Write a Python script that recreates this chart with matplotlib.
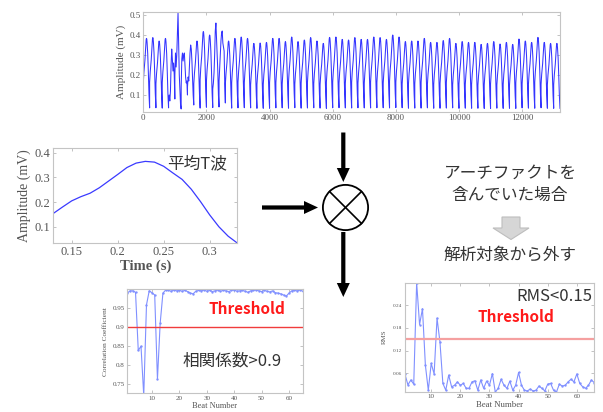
import matplotlib
matplotlib.use('Agg')
import matplotlib.pyplot as plt
import numpy as np
from matplotlib.patches import Circle, FancyArrow, Polygon
from matplotlib.ticker import FuncFormatter

plt.rcParams['font.family'] = ['Liberation Serif', 'DejaVu Serif']
JP = ['Noto Sans CJK JP', 'DejaVu Sans']

# mean T wave, 10 ms steps
t_mean = [0.13, 0.14, 0.15, 0.16, 0.17, 0.18, 0.19, 0.20, 0.21, 0.22, 0.23,
          0.24, 0.25, 0.26, 0.27, 0.28, 0.29, 0.30, 0.31, 0.32, 0.33]
v_mean = [0.154, 0.180, 0.205, 0.222, 0.236, 0.258, 0.285, 0.312, 0.340, 0.358, 0.365,
          0.362, 0.345, 0.318, 0.292, 0.252, 0.202, 0.148, 0.100, 0.062, 0.034]

# peak amplitude of every beat in the long record (200 samples per beat)
beat_peaks = [0.383, 0.387, 0.370, 0.383, 0.333, 0.510, 0.310, 0.350, 0.370, 0.417,
              0.400, 0.460, 0.420, 0.370, 0.383, 0.390, 0.383, 0.358, 0.360, 0.363,
              0.383, 0.383, 0.367, 0.390, 0.367, 0.375, 0.387, 0.370, 0.358, 0.388,
              0.390, 0.378, 0.375, 0.387, 0.378, 0.378, 0.390, 0.387, 0.378, 0.400,
              0.390, 0.367, 0.370, 0.370, 0.383, 0.363, 0.363, 0.372, 0.383, 0.358,
              0.367, 0.363, 0.363, 0.353, 0.358, 0.367, 0.355, 0.363, 0.353, 0.380,
              0.370, 0.363, 0.388, 0.363, 0.358, 0.358]

# beats with artifacts, values every 20 samples
art_offsets = [0, 20, 40, 60, 80, 100, 120, 140, 160, 180, 199]
art_beats = {
    5: [0.08, 0.10, 0.07, 0.12, 0.25, 0.33, 0.28, 0.22, 0.26, 0.20, 0.08],
    6: [0.20, 0.31, 0.24, 0.30, 0.40, 0.51, 0.36, 0.20, 0.12, 0.05, 0.03],
    7: [0.14, 0.28, 0.31, 0.27, 0.30, 0.31, 0.25, 0.19, 0.16, 0.17, 0.10],
    8: [0.14, 0.19, 0.17, 0.24, 0.31, 0.35, 0.33, 0.27, 0.19, 0.10, 0.05],
    12: [0.13, 0.16, 0.21, 0.30, 0.42, 0.46, 0.38, 0.30, 0.22, 0.10, 0.04],
    13: [0.17, 0.24, 0.30, 0.37, 0.41, 0.42, 0.36, 0.34, 0.32, 0.16, 0.06],
}

beat_no = list(range(1, 67))
corr = [0.990, 0.996, 0.996, 0.992, 0.839, 0.850, 0.720, 0.959, 0.996, 0.991,
        0.985, 0.763, 0.911, 0.990, 0.998, 0.997, 0.995, 0.998, 0.996, 0.997,
        0.995, 0.997, 0.994, 0.990, 0.988, 0.995, 0.997, 0.996, 0.998, 0.995,
        0.997, 0.994, 0.996, 0.998, 0.995, 0.997, 0.996, 0.994, 0.997, 0.998,
        0.995, 0.996, 0.997, 0.995, 0.992, 0.996, 0.997, 0.998, 0.996, 0.994,
        0.997, 0.995, 0.993, 0.996, 0.991, 0.990, 0.988, 0.985, 0.982, 0.990,
        0.996, 0.997, 0.996, 0.998, 0.995, 0.996]
rms = [0.057, 0.029, 0.042, 0.031, 0.300, 0.189, 0.231, 0.081, 0.015, 0.086,
       0.058, 0.206, 0.143, 0.033, 0.015, 0.055, 0.024, 0.028, 0.037, 0.028,
       0.033, 0.020, 0.020, 0.037, 0.040, 0.015, 0.042, 0.020, 0.039, 0.028,
       0.059, 0.010, 0.020, 0.044, 0.028, 0.020, 0.039, 0.015, 0.028, 0.062,
       0.028, 0.015, 0.013, 0.018, 0.013, 0.015, 0.026, 0.020, 0.013, 0.031,
       0.033, 0.015, 0.010, 0.031, 0.026, 0.028, 0.037, 0.044, 0.037, 0.058,
       0.033, 0.024, 0.020, 0.028, 0.042, 0.035]
corr_thr = 0.9
rms_thr = 0.15

W, H = 603, 412
fig = plt.figure(figsize=(W / 100, H / 100), dpi=100)


def box(x0, y0, x1, y1):
    return [x0 / W, 1 - y1 / H, (x1 - x0) / W, (y1 - y0) / H]


def matlab_look(ax, size):
    for s in ax.spines.values():
        s.set_color('#c4c4c4')
        s.set_linewidth(0.8)
    ax.tick_params(direction='in', top=True, right=True, length=2.5, width=0.5,
                   color='#aaaaaa', labelsize=size, labelcolor='#555555', pad=2)


gfmt = FuncFormatter(lambda v, p: '%g' % v)

# long record
xs, ys = [], []
offs = [(t - t_mean[0]) * 1000 for t in t_mean]
vmax = max(v_mean)
for k, pk in enumerate(beat_peaks, start=1):
    start = (k - 1) * 200
    if k in art_beats:
        xs += [start + o for o in art_offsets]
        ys += art_beats[k]
    else:
        xs += [start + o for o in offs]
        ys += [v * pk / vmax for v in v_mean]

ax1 = fig.add_axes(box(143.3, 12.3, 560, 111.7))
ax1.plot(xs, ys, color='#3434ff', lw=0.75)
ax1.set_xlim(0, 13200)
ax1.set_ylim(0.0165, 0.5135)
ax1.set_xticks(range(0, 13000, 2000))
ax1.set_yticks([0.1, 0.2, 0.3, 0.4, 0.5])
ax1.yaxis.set_major_formatter(gfmt)
ax1.set_ylabel('Amplitude (mV)', fontsize=8, color='#555555', labelpad=2)
matlab_look(ax1, 6.5)

# mean T wave
ax2 = fig.add_axes(box(53.3, 148.3, 237.3, 243.3))
ax2.plot(t_mean, v_mean, color='#3a3aff', lw=0.9)
ax2.set_xlim(0.13, 0.33)
ax2.set_ylim(0.033, 0.418)
ax2.set_xticks([0.15, 0.2, 0.25, 0.3])
ax2.set_yticks([0.1, 0.2, 0.3, 0.4])
ax2.xaxis.set_major_formatter(gfmt)
ax2.yaxis.set_major_formatter(gfmt)
ax2.set_ylabel('Amplitude (mV)', fontsize=10, color='#555555', labelpad=3)
ax2.set_xlabel('Time (s)', fontsize=10.5, color='#555555', fontweight='bold', labelpad=1)
matlab_look(ax2, 9)

# correlation coefficient
ax3 = fig.add_axes(box(127.3, 289.3, 302.7, 393.3))
ax3.plot(beat_no, corr, color='#8090ff', lw=0.8, marker='.', ms=1.4)
ax3.axhline(corr_thr, color='#f03c3c', lw=1)
ax3.set_xlim(1, 65)
ax3.set_ylim(0.726, 1.0)
ax3.set_xticks([10, 20, 30, 40, 50, 60])
ax3.set_yticks([0.75, 0.8, 0.85, 0.9, 0.95])
ax3.yaxis.set_major_formatter(gfmt)
ax3.set_ylabel('Correlation Coefficient', fontsize=5.3, color='#555555', labelpad=3)
ax3.set_xlabel('Beat Number', fontsize=6, color='#555555', labelpad=1)
matlab_look(ax3, 5)

# RMS
ax4 = fig.add_axes(box(405, 282.7, 594.3, 391.7))
ax4.plot(beat_no, rms, color='#8090ff', lw=0.8, marker='.', ms=1.4)
ax4.axhline(rms_thr, color='#f5a0a0', lw=1.6)
ax4.set_xlim(1, 66)
ax4.set_ylim(0.011, 0.3)
ax4.set_xticks([10, 20, 30, 40, 50, 60])
ax4.set_yticks([0.06, 0.12, 0.18, 0.24])
ax4.yaxis.set_major_formatter(gfmt)
ax4.set_ylabel('RMS', fontsize=5, color='#555555', labelpad=4)
ax4.set_xlabel('Beat Number', fontsize=6.3, color='#555555', labelpad=1)
matlab_look(ax4, 3.8)
ax4.tick_params(axis='x', labelsize=5)

# overlay in pixel units for arrows and notes
ov = fig.add_axes([0, 0, 1, 1])
ov.set_xlim(0, W)
ov.set_ylim(H, 0)
ov.axis('off')
ov.patch.set_visible(False)

cx, cy, r = 345.5, 207.5, 22.6
ov.add_patch(Circle((cx, cy), r, fill=False, ec='black', lw=1.3))
d = r / np.sqrt(2)
ov.plot([cx - d, cx + d], [cy - d, cy + d], color='black', lw=1.2)
ov.plot([cx - d, cx + d], [cy + d, cy - d], color='black', lw=1.2)

arr = dict(width=4.2, head_width=13, head_length=14, length_includes_head=True,
           color='black', lw=0)
ov.add_patch(FancyArrow(262, 207.5, 56, 0, **arr))
ov.add_patch(FancyArrow(343.3, 132.5, 0, 49.5, **arr))
ov.add_patch(FancyArrow(343.3, 232, 0, 65, **arr))

gx = 511
ov.add_patch(Polygon([(gx - 9, 217), (gx + 9, 217), (gx + 9, 228), (gx + 18, 228),
                      (gx, 239.5), (gx - 18, 228), (gx - 9, 228)],
                     closed=True, fc='#d6d6d6', ec='#bdbdbd', lw=0.8))

txt = dict(family=JP, color='#333333', fontsize=12, ha='center', va='center')
ov.text(197.5, 163.5, '平均T波', **txt)
ov.text(510, 173, 'アーチファクトを', **txt)
ov.text(510, 195, '含んでいた場合', **txt)
ov.text(510, 255, '解析対象から外す', **txt)
ov.text(232.5, 361.5, '相関係数>0.9', **txt)
ov.text(554, 296.5, 'RMS<0.15', **txt)
red = dict(family=JP, color='#ff1a1a', fontsize=11, fontweight='bold',
           ha='center', va='center')
ov.text(246.5, 309.5, 'Threshold', **red)
ov.text(515.5, 316.5, 'Threshold', **red)

fig.savefig('out.png', dpi=100)
